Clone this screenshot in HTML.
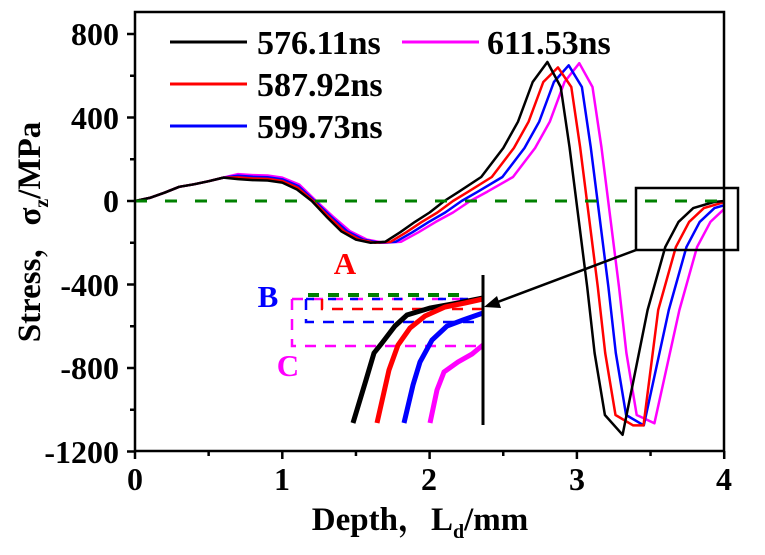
<!DOCTYPE html>
<html><head><meta charset="utf-8"><style>
html,body{margin:0;padding:0;background:#fff}
svg{display:block}
text{font-family:"Liberation Serif","Noto Serif CJK SC",serif;font-weight:bold}
</style></head><body>
<svg id="s" width="765" height="555" viewBox="0 0 765 555" xmlns="http://www.w3.org/2000/svg">
<defs><clipPath id="c"><rect x="135" y="12" width="589" height="439"/></clipPath></defs>
<g id="curves" clip-path="url(#c)" fill="none" stroke-width="2.5" stroke-linejoin="round"></g>
<line x1="135" y1="201" x2="724" y2="201" stroke="#008000" stroke-width="3" stroke-dasharray="12,18"/>
<rect x="135" y="12" width="589" height="439" fill="none" stroke="#000" stroke-width="2.5"/>
<g stroke="#000" stroke-width="2.5" id="ticks"></g>
<g font-size="32" text-anchor="end">
<text x="119" y="45">800</text><text x="119" y="129">400</text><text x="119" y="212">0</text>
<text x="119" y="296">-400</text><text x="119" y="379">-800</text><text x="119" y="463">-1200</text>
</g>
<g font-size="32" text-anchor="middle">
<text x="135" y="490">0</text><text x="282" y="490">1</text><text x="429" y="490">2</text><text x="577" y="490">3</text><text x="724" y="490">4</text>
</g>
<text x="420" y="530" font-size="33" text-anchor="middle">Depth，L<tspan font-size="20" dy="8">d</tspan><tspan dy="-8">/mm</tspan></text>
<text transform="translate(40,232) rotate(-90)" font-size="33" text-anchor="middle">Stress，σ<tspan font-size="20" dy="8">z</tspan><tspan dy="-8">/MPa</tspan></text>
<!-- legend -->
<g stroke-width="3">
<line x1="170" y1="42" x2="247" y2="42" stroke="#000"/>
<line x1="170" y1="84" x2="247" y2="84" stroke="#f00"/>
<line x1="170" y1="126" x2="247" y2="126" stroke="#00f"/>
<line x1="402" y1="42" x2="479" y2="42" stroke="#f0f"/>
</g>
<g font-size="34">
<text x="257" y="54">576.11ns</text>
<text x="257" y="96">587.92ns</text>
<text x="257" y="138">599.73ns</text>
<text x="487" y="54">611.53ns</text>
</g>
<!-- zoom box and arrow -->
<rect x="636" y="188" width="102" height="62" fill="none" stroke="#000" stroke-width="2.5"/>
<line x1="636" y1="250" x2="495" y2="303" stroke="#000" stroke-width="2.5"/>
<polygon points="484,307 497,296 501,308" fill="#000"/>
<!-- inset -->
<g fill="none" stroke-width="2.5" stroke-dasharray="11,9">
<line x1="308" y1="295" x2="460" y2="295" stroke="#008000" stroke-width="4"/>
<polyline points="292,299 483,299" stroke="#f0f"/>
<polyline points="306,299 483,299" stroke="#00f" stroke-dasharray="8,14"/>
<polyline points="292,299 292,346 483,346" stroke="#f0f"/>
<polyline points="306,299 306,322 483,322" stroke="#00f"/>
<polyline points="322,299 322,309 483,309" stroke="#f00"/>
</g>
<g fill="none" stroke-width="5">
<polyline stroke="#000" points="353,423 366,380 374,353 382,343 395,326 407,315 430,308 458,303 483,298"/>
<polyline stroke="#f00" points="377,423 389,370 398,345 410,328 425,316 445,307 465,303 483,299"/>
<polyline stroke="#00f" points="404,423 413,385 420,362 432,340 447,326 463,320 483,313"/>
<polyline stroke="#f0f" points="430,423 437,390 444,372 458,362 472,354 483,345"/>
</g>
<line x1="483" y1="275" x2="483" y2="425" stroke="#000" stroke-width="3"/>
<text x="345" y="274" font-size="31" fill="#f00" text-anchor="middle">A</text>
<text x="268" y="307" font-size="31" fill="#00f" text-anchor="middle">B</text>
<text x="288" y="376" font-size="31" fill="#f0f" text-anchor="middle">C</text>
</svg>
<script>
var NS="http://www.w3.org/2000/svg";
function X(x){return 135+x*147.3}
function Y(y){return 201-y*83.5/400}
var t=document.getElementById("ticks"),h="";
for(var v=-1200;v<=800;v+=200){var len=(v%400==0)?8:5;h+='<line x1="'+(135-len)+'" x2="135" y1="'+Y(v)+'" y2="'+Y(v)+'"/>';}
for(var x=0;x<=4;x+=0.5){var len=(x%1==0)?8:5;h+='<line y1="451" y2="'+(451+len)+'" x1="'+X(x)+'" x2="'+X(x)+'"/>';}
t.innerHTML=h;
var B=[[0,0],[0.1,15],[0.2,40],[0.3,68],[0.4,80],[0.5,95],[0.6,112],[0.7,105],[0.8,100],[0.9,98],[1.0,88],[1.1,55],[1.2,0],[1.3,-75],[1.4,-145],[1.5,-185],[1.6,-200],[1.7,-195],[1.8,-150],[1.9,-100],[2.0,-55],[2.1,0],[2.2,45],[2.35,115],[2.5,254],[2.6,380],[2.7,570],[2.8,666],[2.89,546],[2.95,259],[3.07,-412],[3.12,-728],[3.19,-1025],[3.31,-1120],[3.48,-522],[3.6,-220],[3.69,-100],[3.79,-34],[3.93,-5],[4.0,0],[4.3,0]];
function sh(x){if(x<1.0)return 0;if(x<1.6)return 0.03*(x-1)/0.6;if(x<2.3)return 0.03+0.04*(x-1.6)/0.7;return 0.072;}
var cols=["#000","#f00","#00f","#f0f"],peaks=[666,640,650,660],tr=[-1120,-1075,-1075,-1065];
var g=document.getElementById("curves");
for(var k=3;k>=0;k--){var pts=[];
for(var i=0;i<B.length;i++){var x=B[i][0],y=B[i][1];
 var nx=x+k*sh(x);
 if(x>=0.7&&x<=1.1)y+=k*8;
 if(x==2.8)y=peaks[k];
 if(x==3.31)y=tr[k];
 pts.push(X(nx).toFixed(1)+","+Y(y).toFixed(1));
 if(x==3.31&&k==1)pts.push(X(nx+0.07).toFixed(1)+","+Y(y).toFixed(1));
}
var p=document.createElementNS(NS,"polyline");p.setAttribute("points",pts.join(" "));p.setAttribute("stroke",cols[k]);g.appendChild(p);}
</script>
</body></html>
